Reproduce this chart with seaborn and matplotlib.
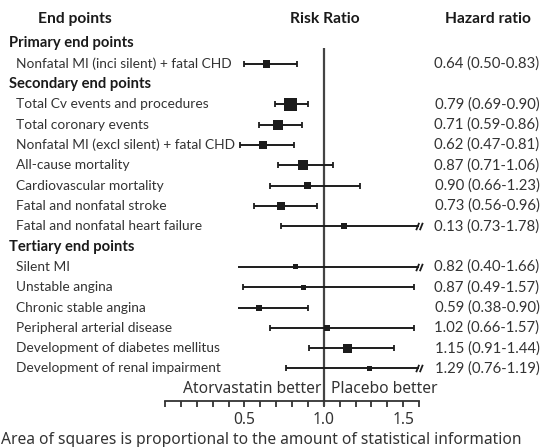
import numpy as np
import pandas as pd
import matplotlib
matplotlib.use("Agg")
import matplotlib.pyplot as plt
import matplotlib.transforms as mtransforms
from matplotlib.path import Path
import seaborn as sns

# end points, grouped by section
sections = ["Primary end points", "Secondary end points", "Tertiary end points"]
section_sizes = [1, 7, 6]
end_points = [
    "Nonfatal MI (inci silent) + fatal CHD",
    "Total Cv events and procedures",
    "Total coronary events",
    "Nonfatal MI (excl silent) + fatal CHD",
    "All-cause mortality",
    "Cardiovascular mortality",
    "Fatal and nonfatal stroke",
    "Fatal and nonfatal heart failure",
    "Silent MI",
    "Unstable angina",
    "Chronic stable angina",
    "Peripheral arterial disease",
    "Development of diabetes mellitus",
    "Development of renal impairment",
]
# values as drawn
hr = [0.64, 0.79, 0.71, 0.62, 0.87, 0.90, 0.73, 1.13, 0.82, 0.87, 0.59, 1.02, 1.15, 1.29]
ci_low = [0.50, 0.69, 0.59, 0.47, 0.71, 0.66, 0.56, 0.73, 0.40, 0.49, 0.38, 0.66, 0.91, 0.76]
ci_high = [0.83, 0.90, 0.86, 0.81, 1.06, 1.23, 0.96, 1.78, 1.66, 1.57, 0.90, 1.57, 1.44, 2.19]
# relative statistical information (square area)
weight = [56, 169, 100, 64, 100, 49, 64, 36, 25, 25, 36, 36, 81, 25]
# text column as printed
hr_text = [
    "0.64 (0.50-0.83)", "0.79 (0.69-0.90)", "0.71 (0.59-0.86)", "0.62 (0.47-0.81)",
    "0.87 (0.71-1.06)", "0.90 (0.66-1.23)", "0.73 (0.56-0.96)", "0.13 (0.73-1.78)",
    "0.82 (0.40-1.66)", "0.87 (0.49-1.57)", "0.59 (0.38-0.90)", "1.02 (0.66-1.57)",
    "1.15 (0.91-1.44)", "1.29 (0.76-1.19)",
]
ticks = np.round(np.arange(0, 17) / 10, 1)
tick_labels = {0.5: "0.5", 1.0: "1.0", 1.5: "1.5"}

LO_CLIP, HI_CLIP = 0.46, 1.6
text_col = "#333333"
ink = "#1c1c1c"

# row positions: headings then their rows
rows, head_rows = [], []
r = 0
for n in section_sizes:
    head_rows.append(r)
    rows.extend(range(r + 1, r + 1 + n))
    r += n + 1

df = pd.DataFrame({"label": end_points, "hr": hr, "lo": ci_low, "hi": ci_high,
                   "w": weight, "row": rows, "txt": hr_text})
df["lo_d"] = df["lo"].clip(LO_CLIP, HI_CLIP)
df["hi_d"] = df["hi"].clip(LO_CLIP, HI_CLIP)

sns.set_theme(style="white")
plt.rcParams["font.family"] = ["Lato", "DejaVu Sans"]

fig = plt.figure(figsize=(5.42, 4.47), dpi=100)
ax = fig.add_axes([165 / 542, 46 / 447, 254 / 542, 401 / 447])
ax.set_xlim(0, 1.6)
ax.set_ylim(17.6, -2.14)

# reference line
ax.vlines(1.0, 0.23, 17.85, color="#444444", lw=1.6, clip_on=False, zorder=1)

# confidence intervals
ax.hlines(df["row"], df["lo_d"], df["hi_d"], color=ink, lw=1.4, zorder=2)
caps = pd.concat([
    df.loc[df["lo"] >= LO_CLIP, ["lo_d", "row"]].rename(columns={"lo_d": "x"}),
    df.loc[df["hi"] <= HI_CLIP, ["hi_d", "row"]].rename(columns={"hi_d": "x"}),
])
ax.scatter(caps["x"], caps["row"], marker="|", s=18, color=ink, linewidths=1.3, zorder=2)

# break marks for truncated intervals
brk = Path([(-0.9, -1), (-0.1, 1), (0.1, -1), (0.9, 1)],
           [Path.MOVETO, Path.LINETO, Path.MOVETO, Path.LINETO])
cut = df[df["hi"] > HI_CLIP]
ax.scatter(cut["hi_d"], cut["row"], marker=brk, s=28, color=ink, linewidths=1.3,
           clip_on=False, zorder=3)

# squares, area proportional to information
sq = (df["w"] ** 0.5 * 0.72) ** 2
sns.scatterplot(data=df.assign(a=sq), x="hr", y="row", size="a",
                sizes=(sq.min(), sq.max()), size_norm=(sq.min(), sq.max()),
                marker="s", color=ink, linewidth=0, legend=False, ax=ax, zorder=4)

# axis styling
for s in ["left", "top", "right"]:
    ax.spines[s].set_visible(False)
ax.spines["bottom"].set_color(text_col)
ax.spines["bottom"].set_linewidth(1.3)
ax.set_xticks(ticks)
xt = ax.set_xticklabels([tick_labels.get(t, "") for t in ticks], fontfamily="Noto Sans",
                        fontsize=9.5, color=text_col)
ax.tick_params(axis="x", direction="out", length=4, width=1.3, color=text_col, pad=4,
               bottom=True)
ax.set_yticks([])
ax.set_xlabel("")
ax.set_ylabel("")

# text columns
tr = mtransforms.blended_transform_factory(fig.transFigure, ax.transData)
head_kw = dict(transform=tr, fontweight="bold", color="#1a1a1a", va="center")
col_heads = [ax.text(75 / 542, -1.2, "End points", ha="center", **head_kw),
             ax.text(325 / 542, -1.2, "Risk Ratio", ha="center", **head_kw),
             ax.text(488 / 542, -1.2, "Hazard ratio", ha="center", **head_kw)]
sec_heads = [ax.text(9 / 542, hrow, name, ha="left", **head_kw)
             for name, hrow in zip(sections, head_rows)]
labels, values = [], []
for _, d in df.iterrows():
    labels.append(ax.text(16 / 542, d["row"], d["label"], transform=tr, ha="left",
                          va="center", color=text_col))
    values.append(ax.text(487 / 542, d["row"], d["txt"], transform=tr, ha="center",
                          va="center", color=text_col))

bottom = [ax.text(0.985, 17.0, "Atorvastatin better", ha="right", va="center",
                  fontfamily="Noto Sans", color=text_col),
          ax.text(1.045, 17.0, "Placebo better", ha="left", va="center",
                  fontfamily="Noto Sans", color=text_col)]
note = fig.text(0.002, 7 / 447,
                "Area of squares is proportional to the amount of statistical information",
                ha="left", va="center", fontfamily="Noto Sans", color=text_col)

# size each text group to the widths seen in the reference (pixels)
renderer = fig.canvas.get_renderer()
def fit(group, sample, target):
    sample.set_fontsize(10)
    w = sample.get_window_extent(renderer).width
    for t in group:
        t.set_fontsize(10 * target / w)

fit(col_heads, col_heads[2], 86)
fit(sec_heads, sec_heads[1], 143)
fit(labels, labels[3], 219)
fit(values, values[0], 105)
fit(bottom + [note], note, 519)
for t in xt:
    t.set_fontsize(bottom[0].get_fontsize())

fig.savefig("out.png", dpi=100)
